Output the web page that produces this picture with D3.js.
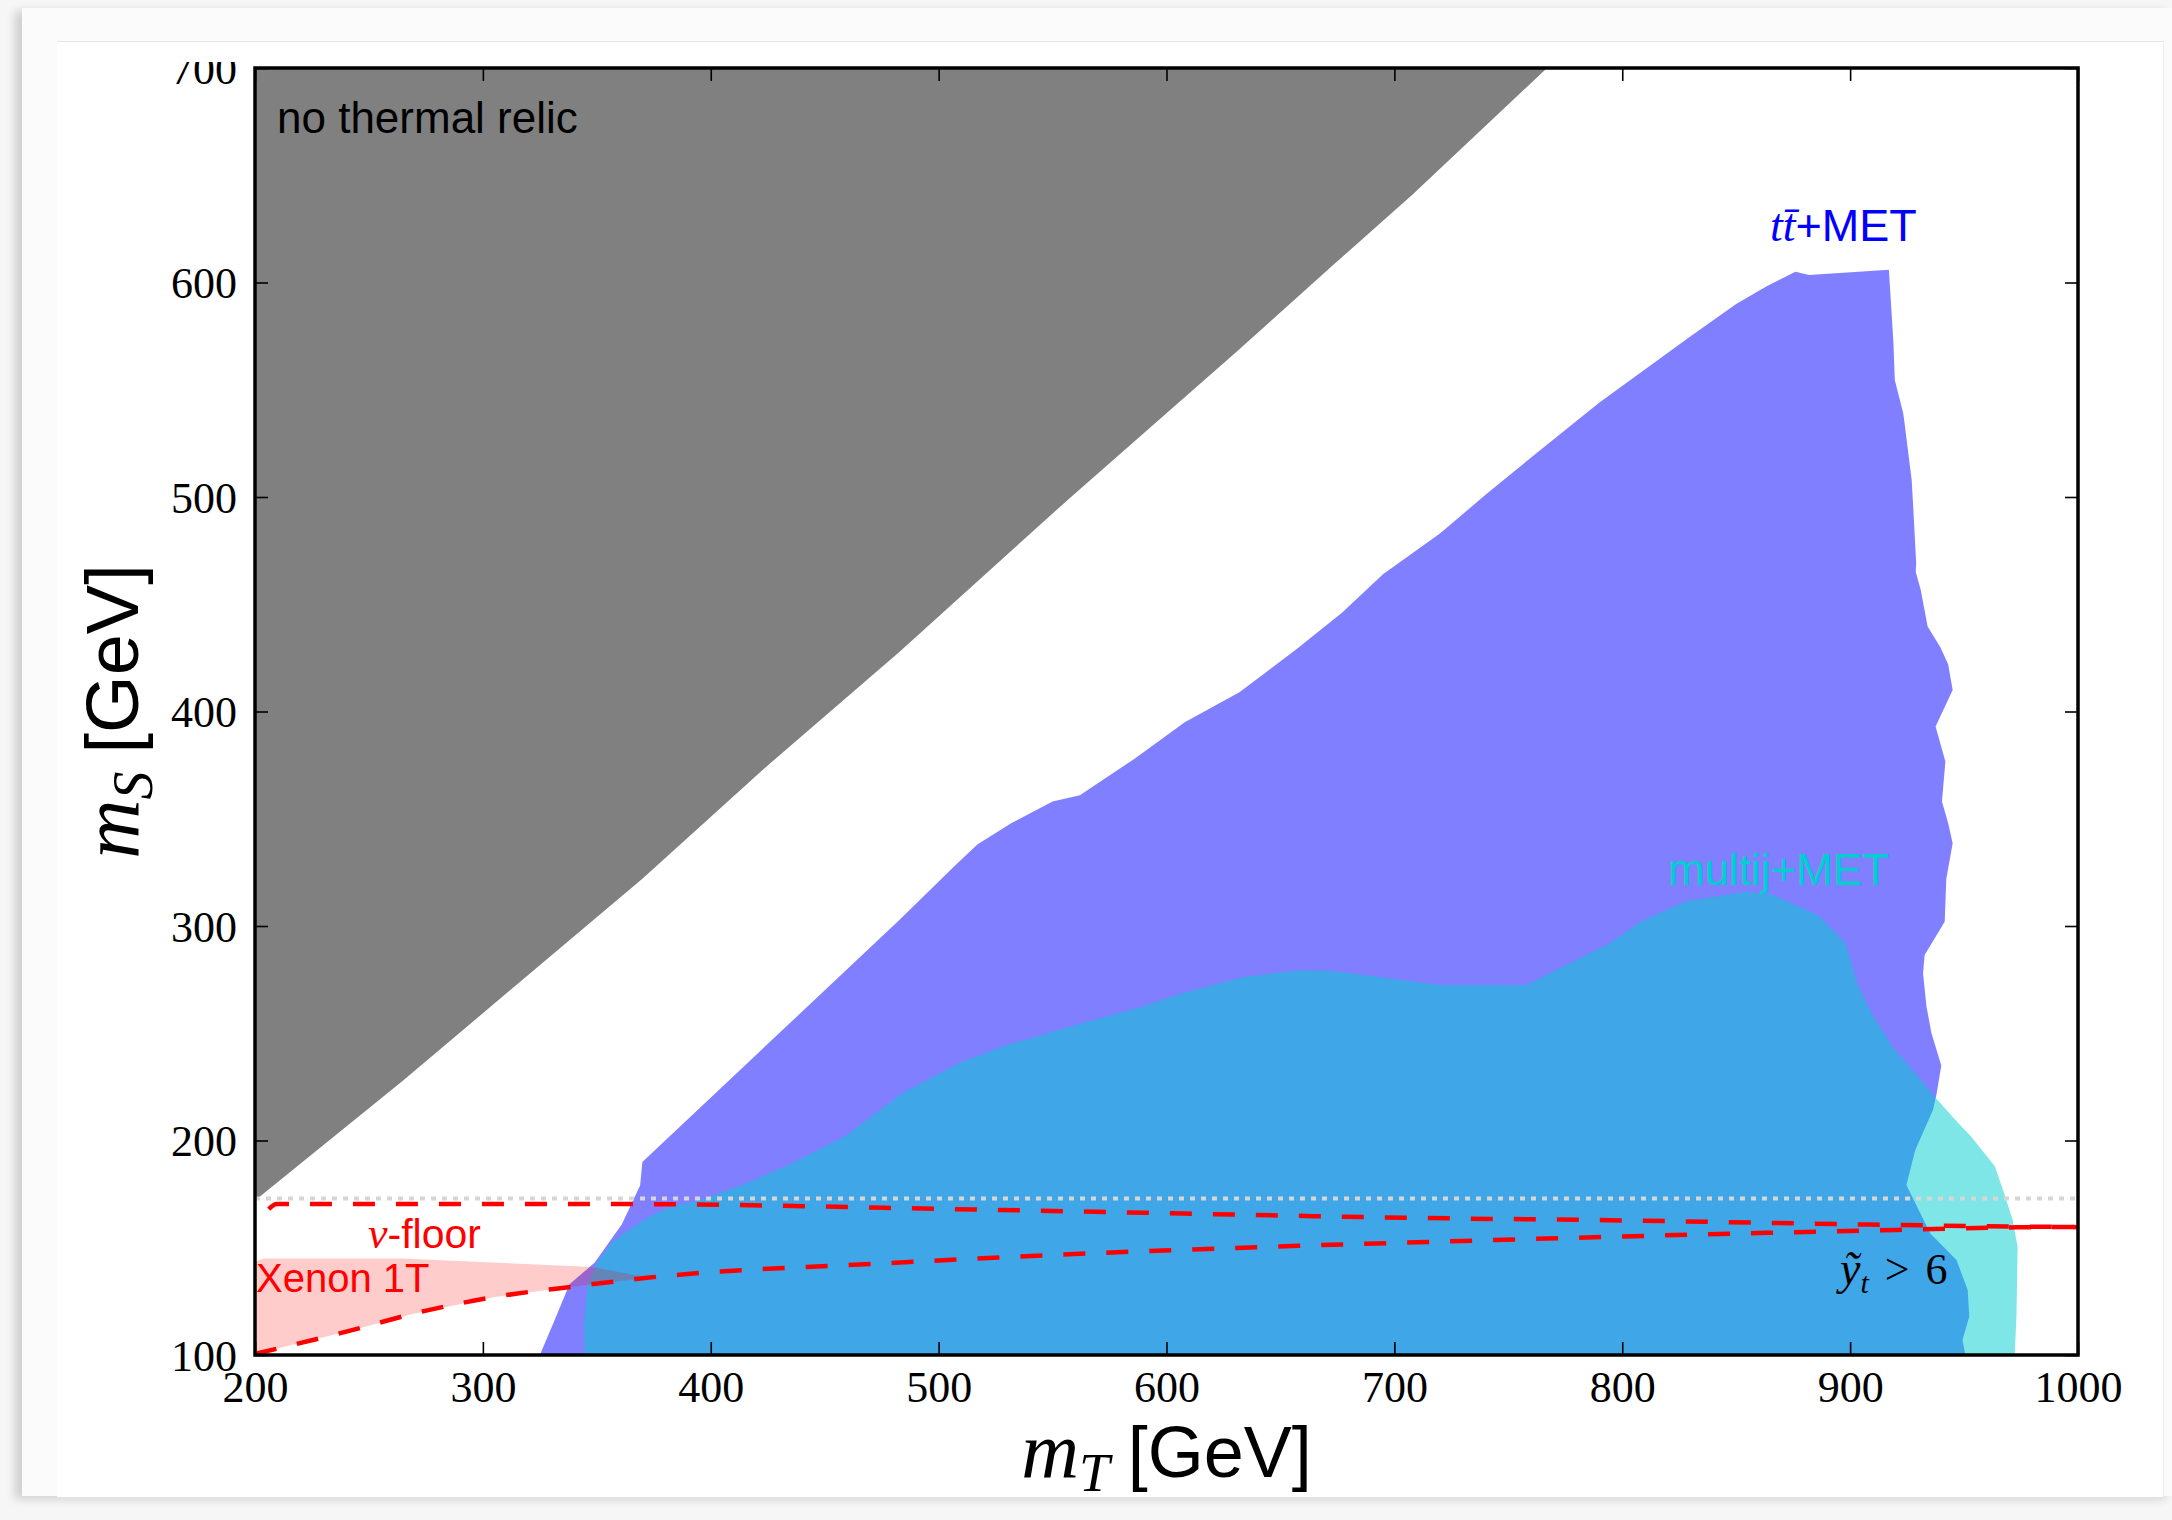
<!DOCTYPE html>
<html>
<head>
<meta charset="utf-8">
<script src="https://cdn.jsdelivr.net/npm/d3@7"></script>
<style>
body{margin:0;background:#f6f6f6;width:2172px;height:1520px;overflow:hidden;position:relative;}
.card{position:absolute;left:22px;top:8px;width:2150px;height:1488px;background:#fbfbfb;box-shadow:-7px 3px 9px rgba(0,0,0,0.16);}
.sheet{position:absolute;left:57px;top:41px;width:2106px;height:1455px;background:#fff;border-top:1px solid #e4e4e4;border-right:1px solid #ececec;border-bottom:2px solid #e2e2e2;}
svg{position:absolute;left:0;top:0;}
</style>
</head>
<body>
<div class="card"></div>
<div class="sheet"></div>
<svg id="chart"></svg>
<script>
// axis ticks
var xTicks = [200,300,400,500,600,700,800,900,1000];
var yTicks = [100,200,300,400,500,600,700];

// region with no thermal relic, lower edge (mT, mS)
var relicEdge = [[200,172],[265,228],[370,322],[423,373],[483,428],[557,499],[630,567],[673,608],[708,641],[767,700]];

// ttbar+MET excluded region
var ttMet = [[325,100],[331,115],[338,133],[349,143],[361,161],[369,179],[370,190],
	[483,303],[507,328],[517,338],[532,348],[550,358],[562,361],[586,378],[608,395],[632,409],
	[657,429],[677,446],[695,464],[720,483],[740,501],[763,521],[790,544],[830,575],[850,590],
	[863,598],[876,605],[882,603.5],[917,606],
	[919,572],[919.6,554.5],[923.3,539],[924,533.5],[927,508],[927.6,497],[929,469],[928.8,465],
	[931,456.6],[934,439.6],[939.6,430],[943,422],[945,410],[937.5,393],[941.8,376.7],[940.3,358],
	[943,348],[945,338.6],[942.2,322],[941.5,302],[932.7,286.5],[932,278],[933.5,262.5],[935.7,250],
	[940,235],[938,222],[936.4,214.3],[928.6,195.6],[924.7,179.3],[935.2,156.7],[946.7,144.3],
	[951.6,130.3],[952.3,118],[949.3,107],[950.6,100]];

// multijet+MET excluded region
var multijMet = [[344.6,100],[344.4,115],[346,133],[350,143],[357,153],[372,164],[382,169],[396,172.5],
	[415.5,180],[435,189],[459,202],[484,222],[507,235],[510,236.6],[530,244.5],[564,255],[588,262],
	[608,269],[633,276],[658,279.4],[673,279],[720,272.5],[758,272.5],[794,291.6],[808,302],[828,311.5],
	[854.5,316],[866,314.5],[886,305],[898,292],[903.5,272],[910,258],[919,243],[926,234.5],[937,220.5],
	[947.5,208],[953,202],[963.5,188],[968,174],[971.3,163],[973.5,150.5],[973,118],[972.2,100]];

// Xenon 1T reach
var xenon = [[200,100.5],[200,143.5],[204,145],[265,145],[348,141],[373,136],[339,131.8],[306,127.2],
	[270,119.4],[243,111.7],[200,100.5]];

// neutrino floor curves
var nuUpper = [[206,168],[209.5,170.4],[355,170.4],[527,167.6],[724,163.7],[790,162.9],[920,160.6],[1000,159.6]];
var nuLower = [[200,100.5],[243,111.7],[270,119.4],[306,127.2],[339,131.8],[373,136.1],[483,143.1],[527,145.5],
	[658,150.9],[724,153],[834,156.2],[920,158.3],[973,159.5],[1000,159.7]];

var topMass = 173;

var W = 2172, H = 1520;
var pL = 255, pR = 2078, pT = 68, pB = 1355;
var serif = "'Liberation Serif','DejaVu Serif',serif";
var sans = "'Liberation Sans',Arial,sans-serif";

var svg = d3.select("#chart").attr("width",W).attr("height",H);
var defs = svg.append("defs");
defs.append("clipPath").attr("id","page")
	.append("rect").attr("x",0).attr("y",62).attr("width",W).attr("height",H-62);
defs.append("clipPath").attr("id","plot")
	.append("rect").attr("x",pL).attr("y",pT).attr("width",pR-pL).attr("height",pB-pT);

var x = d3.scaleLinear().domain([200,1000]).range([pL,pR]);
var y = d3.scaleLinear().domain([100,700]).range([pB,pT]);

var g = svg.append("g").attr("clip-path","url(#page)");
var area = g.append("g").attr("clip-path","url(#plot)");

var poly = d3.line().x(function(d){return x(d[0]);}).y(function(d){return y(d[1]);});
var smooth = d3.line().x(function(d){return x(d[0]);}).y(function(d){return y(d[1]);}).curve(d3.curveMonotoneX);

var relicPoly = relicEdge.concat([[200,700]]);
area.append("path").attr("d",poly(relicPoly)+"Z").attr("fill","#808080");
area.append("path").attr("d",poly(ttMet)+"Z").attr("fill","rgba(0,0,255,0.5)");
area.append("path").attr("d",poly(multijMet)+"Z").attr("fill","rgba(0,206,209,0.5)");
area.append("path").attr("d",poly(xenon)+"Z").attr("fill","rgba(255,0,0,0.2)");

area.append("line")
	.attr("x1",x(200)).attr("x2",x(1000))
	.attr("y1",y(topMass)).attr("y2",y(topMass))
	.attr("stroke","#d6d6d6").attr("stroke-width",4)
	.attr("stroke-dasharray","5 6");

[nuUpper,nuLower].forEach(function(c){
	area.append("path").attr("d",smooth(c))
		.attr("fill","none").attr("stroke","#ff0000")
		.attr("stroke-width",4.5).attr("stroke-dasharray","22 21");
});

// axes with inward ticks on all four sides
var fmt = d3.format("d");
var axB = g.append("g").attr("transform","translate(0,"+pB+")")
	.call(d3.axisBottom(x).tickValues(xTicks).tickSizeInner(-13).tickSizeOuter(0).tickFormat(fmt));
var axT = g.append("g").attr("transform","translate(0,"+pT+")")
	.call(d3.axisTop(x).tickValues(xTicks).tickSizeInner(-13).tickSizeOuter(0).tickFormat(""));
var axL = g.append("g").attr("transform","translate("+pL+",0)")
	.call(d3.axisLeft(y).tickValues(yTicks).tickSizeInner(-13).tickSizeOuter(0).tickFormat(fmt));
var axR = g.append("g").attr("transform","translate("+pR+",0)")
	.call(d3.axisRight(y).tickValues(yTicks).tickSizeInner(-13).tickSizeOuter(0).tickFormat(""));

[axB,axT,axL,axR].forEach(function(a){
	a.select(".domain").remove();
	a.selectAll(".tick line").attr("stroke","#000").attr("stroke-width",1.6);
	a.attr("font-family",serif).attr("font-size",44);
	a.selectAll(".tick text").attr("fill","#000");
});
axB.selectAll(".tick text").attr("dy",null).attr("y",47);
axL.selectAll(".tick text").attr("dy",null).attr("x",-18).attr("y",15);

g.append("rect").attr("x",pL).attr("y",pT)
	.attr("width",pR-pL).attr("height",pB-pT)
	.attr("fill","none").attr("stroke","#000").attr("stroke-width",3.5);

// axis titles
var xl = g.append("text").attr("x",(pL+pR)/2).attr("y",1477)
	.attr("text-anchor","middle").attr("fill","#000");
xl.append("tspan").attr("font-family",serif).attr("font-style","italic").attr("font-size",80).text("m");
xl.append("tspan").attr("font-family",serif).attr("font-style","italic").attr("font-size",55).attr("dy",14).text("T");
xl.append("tspan").attr("font-family",sans).attr("font-size",72).attr("dy",-14).attr("dx",18).text("[GeV]");

var yl = g.append("text").attr("transform","translate(138,"+((pT+pB)/2)+") rotate(-90)")
	.attr("text-anchor","middle").attr("fill","#000");
yl.append("tspan").attr("font-family",serif).attr("font-style","italic").attr("font-size",82).text("m");
yl.append("tspan").attr("font-family",serif).attr("font-style","italic").attr("font-size",56).attr("dy",14).text("S");
yl.append("tspan").attr("font-family",sans).attr("font-size",74).attr("dy",-14).attr("dx",18).text("[GeV]");

// region labels
g.append("text").attr("x",277).attr("y",133)
	.attr("font-family",sans).attr("font-size",44).attr("fill","#000").text("no thermal relic");

var tt = g.append("text").attr("x",1770).attr("y",241).attr("fill","#0000ff");
tt.append("tspan").attr("font-family",serif).attr("font-style","italic").attr("font-size",46).text("t");
tt.append("tspan").attr("font-family",serif).attr("font-style","italic").attr("font-size",46).text("t\u0304");
tt.append("tspan").attr("font-family",sans).attr("font-size",45).text("+MET");

g.append("text").attr("x",1668).attr("y",885)
	.attr("font-family",sans).attr("font-size",44).attr("fill","#00ced1").text("multij+MET");

var nu = g.append("text").attr("x",368).attr("y",1248).attr("fill","#ff0000");
nu.append("tspan").attr("font-family",serif).attr("font-style","italic").attr("font-size",44).text("\u03bd");
nu.append("tspan").attr("font-family",sans).attr("font-size",41).text("-floor");

g.append("text").attr("x",256).attr("y",1292)
	.attr("font-family",sans).attr("font-size",40).attr("fill","#ff0000").text("Xenon 1T");

var yt = g.append("text").attr("x",1840).attr("y",1284).attr("fill","#000").attr("font-family",serif);
yt.append("tspan").attr("font-style","italic").attr("font-size",46).text("\u1ef9");
yt.append("tspan").attr("font-style","italic").attr("font-size",30).attr("dy",9).text("t");
yt.append("tspan").attr("font-size",44).attr("dy",-9).attr("dx",16).text(">");
yt.append("tspan").attr("font-size",44).attr("dx",16).text("6");
</script>
</body>
</html>
